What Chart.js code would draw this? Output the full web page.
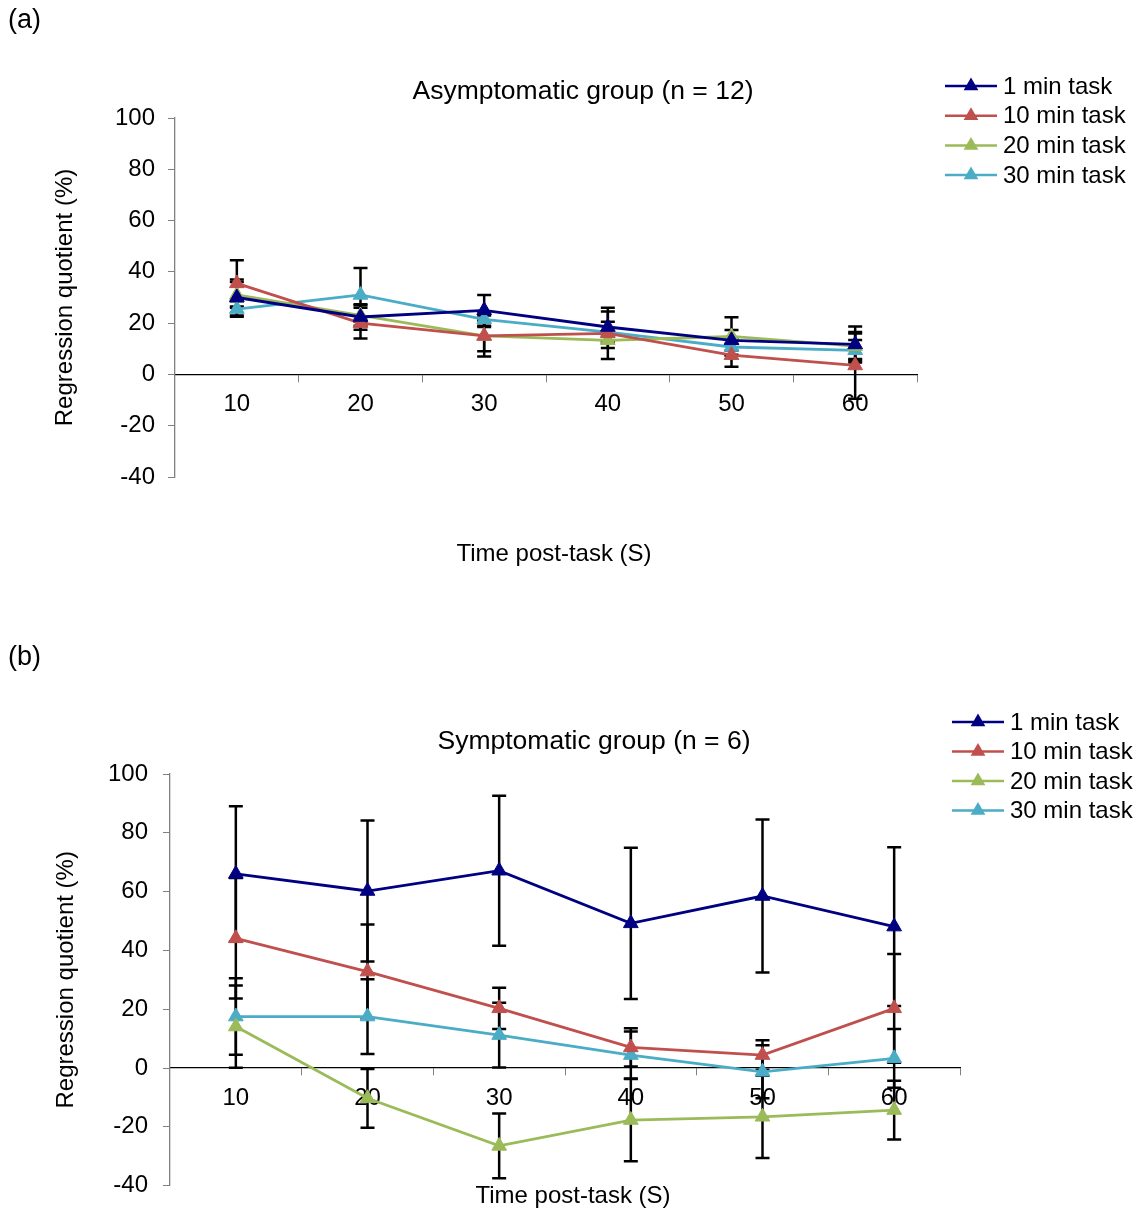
<!DOCTYPE html>
<html>
<head>
<meta charset="utf-8">
<script src="https://cdn.jsdelivr.net/npm/chart.js@4"></script>
<style>
  html, body { margin: 0; padding: 0; background: #fff; overflow: hidden; }
  .panel { position: absolute; left: 0; width: 1146px; }
</style>
</head>
<body>
<div class="panel" style="top:0;height:600px"><canvas id="chartA" width="1146" height="600"></canvas></div>
<div class="panel" style="top:600px;height:620px"><canvas id="chartB" width="1146" height="620"></canvas></div>
<script>
const timeLabels = ['10', '20', '30', '40', '50', '60'];
const seriesNames = ['1 min task', '10 min task', '20 min task', '30 min task'];
const seriesColors = ['#000080', '#C0504D', '#9BBB59', '#4BACC6'];

// (a) asymptomatic group, means and error sizes
const asymOneMin = [30, 22.4, 25, 18.5, 13.3, 11.7];
const asymTenMin = [35.5, 20, 15, 16, 7.5, 3.5];
const asymTwentyMin = [31, 23, 15, 13.3, 14.8, 11];
const asymThirtyMin = [25.5, 31, 21.5, 16.5, 10.7, 9.4];
const asymOneMinErr = [7, 5, 6, 6, 4, 7];
const asymTenMinErr = [9, 6, 8, 10, 4.5, 13];
const asymTwentyMinErr = [5, 4, 6, 3, 7.5, 5];
const asymThirtyMinErr = [3, 10.5, 3, 4, 3, 4];

// (b) symptomatic group
const symOneMin = [66, 60.2, 67.1, 49.2, 58.5, 48.1];
const symTenMin = [44.1, 32.8, 20.3, 7, 4.4, 20.3];
const symTwentyMin = [14.1, -10.3, -26.5, -17.7, -16.6, -14.3];
const symThirtyMin = [17.5, 17.5, 11.2, 4.4, -1.3, 3.3];
const symOneMinErr = [23, 24, 25.5, 25.7, 26, 27];
const symTenMinErr = [20.5, 16, 7, 6.5, 5, 18.5];
const symTwentyMinErr = [14, 10, 11, 14, 14, 10];
const symThirtyMinErr = [13, 12.7, 11, 8, 9, 10];

const yTicks = { min: -40, max: 100, step: 20 };
const FONT = '"Liberation Sans", Arial, sans-serif';

// black error bars, drawn under the lines
const errorBarPlugin = {
  id: 'errorBars',
  beforeDatasetsDraw(chart) {
    const ctx = chart.ctx;
    const yScale = chart.scales.y;
    ctx.save();
    ctx.strokeStyle = '#000';
    ctx.lineWidth = 2.5;
    chart.data.datasets.forEach((ds, i) => {
      chart.getDatasetMeta(i).data.forEach((pt, j) => {
        const top = yScale.getPixelForValue(ds.data[j] + ds.errorBars[j]);
        const bot = yScale.getPixelForValue(ds.data[j] - ds.errorBars[j]);
        ctx.beginPath();
        ctx.moveTo(pt.x, top); ctx.lineTo(pt.x, bot);
        ctx.moveTo(pt.x - 7, top); ctx.lineTo(pt.x + 7, top);
        ctx.moveTo(pt.x - 7, bot); ctx.lineTo(pt.x + 7, bot);
        ctx.stroke();
      });
    });
    ctx.restore();
  }
};

// Excel-like legend: line with a triangle in the middle
const legendPlugin = {
  id: 'lineLegend',
  afterDraw(chart, args, opts) {
    const ctx = chart.ctx;
    ctx.save();
    chart.data.datasets.forEach((ds, i) => {
      const y = opts.y + i * opts.rowGap;
      ctx.strokeStyle = ds.borderColor;
      ctx.lineWidth = 2.5;
      ctx.beginPath();
      ctx.moveTo(opts.x, y);
      ctx.lineTo(opts.x + 52, y);
      ctx.stroke();
      const cx = opts.x + 26, r = 8.5;
      ctx.fillStyle = ds.borderColor;
      ctx.beginPath();
      ctx.moveTo(cx, y - r);
      ctx.lineTo(cx + r * 0.866, y + r * 0.5);
      ctx.lineTo(cx - r * 0.866, y + r * 0.5);
      ctx.closePath();
      ctx.fill();
      ctx.fillStyle = '#000';
      ctx.font = '24px ' + FONT;
      ctx.textAlign = 'left';
      ctx.textBaseline = 'middle';
      ctx.fillText(ds.label, opts.x + 58, y + 1);
    });
    ctx.restore();
  }
};

const textPlugin = {
  id: 'panelText',
  afterDraw(chart, args, opts) {
    const ctx = chart.ctx;
    ctx.save();
    ctx.fillStyle = '#000';
    ctx.textBaseline = 'middle';
    opts.items.forEach(t => {
      ctx.font = t.size + 'px ' + FONT;
      ctx.textAlign = t.align || 'center';
      ctx.fillText(t.text, t.x, t.y);
    });
    ctx.restore();
  }
};

function makeChart(id, values, errors, cfg) {
  const datasets = values.map((vals, i) => ({
    label: seriesNames[i],
    data: vals,
    errorBars: errors[i],
    borderColor: seriesColors[i],
    backgroundColor: seriesColors[i],
    borderWidth: 2.8,
    pointStyle: 'triangle',
    pointRadius: 8.5,
    pointBackgroundColor: seriesColors[i],
    pointBorderColor: seriesColors[i],
    pointBorderWidth: 1,
    tension: 0
  }));

  return new Chart(document.getElementById(id), {
    type: 'line',
    data: { labels: timeLabels, datasets },
    plugins: [errorBarPlugin, legendPlugin, textPlugin],
    options: {
      responsive: false,
      animation: false,
      layout: { padding: cfg.padding },
      scales: {
        x: {
          type: 'category',
          offset: true,
          position: { y: 0 },
          grid: { display: true, drawOnChartArea: false, drawTicks: true, tickLength: 7, offset: true, color: '#808080' },
          border: { display: true, color: '#000', width: 1.3 },
          ticks: { color: '#000', font: { size: 24, family: FONT }, padding: 9, maxRotation: 0 }
        },
        y: {
          min: yTicks.min,
          max: yTicks.max,
          afterFit: (scale) => { scale.width = cfg.yWidth; },
          grid: { display: true, drawOnChartArea: false, drawTicks: true, tickLength: 7, color: '#808080' },
          border: { display: true, color: '#808080', width: 1.3 },
          ticks: { stepSize: yTicks.step, color: '#000', font: { size: 24, family: FONT }, padding: cfg.tickPad },
          title: { display: true, text: 'Regression quotient (%)', color: '#000', font: { size: 24, family: FONT }, padding: 0 }
        }
      },
      plugins: {
        legend: { display: false },
        tooltip: { enabled: false },
        lineLegend: cfg.legend,
        panelText: { items: cfg.texts }
      }
    }
  });
}

makeChart('chartA',
  [asymOneMin, asymTenMin, asymTwentyMin, asymThirtyMin],
  [asymOneMinErr, asymTenMinErr, asymTwentyMinErr, asymThirtyMinErr],
  {
    padding: { left: 51, right: 229, top: 118, bottom: 123 },
    yWidth: 124,
    tickPad: 13,
    legend: { x: 945, y: 86, rowGap: 29.7 },
    texts: [
      { text: '(a)', x: 8, y: 21, size: 27, align: 'left' },
      { text: 'Asymptomatic group (n = 12)', x: 583, y: 92, size: 26.5 },
      { text: 'Time post-task (S)', x: 554, y: 554, size: 24 }
    ]
  });

makeChart('chartB',
  [symOneMin, symTenMin, symTwentyMin, symThirtyMin],
  [symOneMinErr, symTenMinErr, symTwentyMinErr, symThirtyMinErr],
  {
    padding: { left: 52, right: 186, top: 174, bottom: 34.4 },
    yWidth: 118,
    tickPad: 15,
    legend: { x: 952, y: 122, rowGap: 29.5 },
    texts: [
      { text: '(b)', x: 8, y: 58, size: 27, align: 'left' },
      { text: 'Symptomatic group (n = 6)', x: 594, y: 142, size: 26.5 },
      { text: 'Time post-task (S)', x: 573, y: 596, size: 24 }
    ]
  });
</script>
</body>
</html>
